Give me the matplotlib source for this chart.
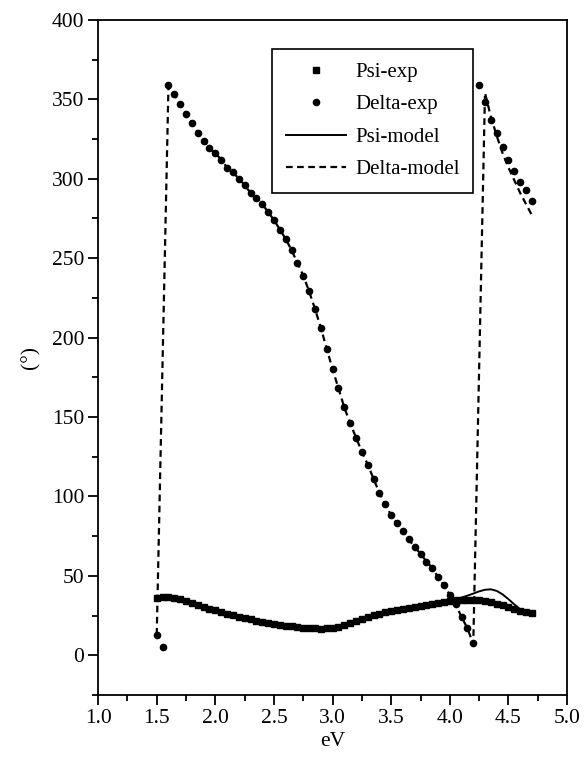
import numpy as np
import matplotlib
matplotlib.use("Agg")
import matplotlib.pyplot as plt

plt.rcParams['font.family'] = ['Liberation Serif', 'DejaVu Serif']

# photon energy grid of the measurements (eV)
energia = np.round(np.arange(1.5, 4.7001, 0.05), 2)

psi_exp = [36, 36.5, 36.5, 36, 35.2, 34.2, 33, 31.8, 30.5, 29.3,
           28.2, 27.2, 26.2, 25.2, 24.3, 23.4, 22.6, 21.8, 21.1, 20.4,
           19.8, 19.2, 18.7, 18.2, 17.8, 17.4, 17.1, 16.9, 16.8, 16.9,
           17.3, 18, 19, 20.3, 21.7, 23, 24.2, 25.2, 26.1, 26.9,
           27.6, 28.3, 29, 29.7, 30.4, 31.1, 31.8, 32.5, 33.1, 33.7,
           34.2, 34.6, 34.9, 35, 35, 34.7, 34.2, 33.4, 32.5, 31.4,
           30.3, 29.2, 28.1, 27.3, 26.8]

delta_exp = [13, 5, 359, 353, 347, 341, 335, 329, 324, 319,
             316, 312, 307, 304, 300, 296, 291, 288, 284, 279,
             274, 268, 262, 255, 247, 239, 229, 218, 206, 193,
             180, 168, 156, 146, 137, 128, 120, 111, 102, 95,
             88, 83, 78, 73, 68, 64, 59, 55, 49, 44,
             38, 32, 24, 17, 8, 359, 348, 337, 329, 320,
             312, 305, 298, 293, 286]

# modelo
psi_model = psi_exp[:51] + [35.2, 36.3, 37.5, 38.8, 40.2, 41.2, 41.5, 40.5,
                            38.3, 35.3, 32, 29, 27, 26.5]

e_model = [1.5, 1.6, 1.65, 1.7, 1.75, 1.8, 1.85, 1.9, 1.95, 2.0,
           2.05, 2.1, 2.15, 2.2, 2.25, 2.3, 2.35, 2.4, 2.45, 2.5,
           2.55, 2.6, 2.65, 2.7, 2.75, 2.8, 2.85, 2.9, 2.95, 3.0,
           3.05, 3.1, 3.15, 3.2, 3.25, 3.3, 3.35, 3.4, 3.45, 3.5,
           3.55, 3.6, 3.65, 3.7, 3.75, 3.8, 3.85, 3.9, 3.95, 4.0,
           4.05, 4.1, 4.15, 4.2, 4.3, 4.35, 4.4, 4.45, 4.5, 4.55,
           4.6, 4.65, 4.7]
delta_model = [13, 358, 353, 347, 341, 335, 329, 324, 319, 316,
               312, 307, 304, 300, 296, 291, 288, 284, 279, 274,
               268, 262, 255, 247, 239, 229, 218, 206, 193, 180,
               168, 156, 146, 137, 128, 120, 111, 102, 95, 88,
               83, 78, 73, 68, 64, 59, 55, 49, 44, 38,
               32, 24, 17, 7, 354, 339, 327, 316, 307, 299,
               291, 284, 277]

fig = plt.figure(figsize=(5.84, 7.62), dpi=100)
ax = fig.add_axes([0.168, 0.088, 0.803, 0.886])

ax.plot(energia, psi_exp, 's', color='black', markersize=4.8, label='Psi-exp')
ax.plot(energia, delta_exp, 'o', color='black', markersize=4.5, label='Delta-exp')
ax.plot(energia, psi_model, '-', color='black', lw=1.4, label='Psi-model')
ax.plot(e_model, delta_model, '--', color='black', lw=1.6, dashes=(3, 2),
        label='Delta-model')

ax.set_xlim(1.0, 5.0)
ax.set_ylim(-25, 400)
ax.set_xticks(np.arange(1.0, 5.01, 0.5))
ax.set_xticks(np.arange(1.0, 5.01, 0.25), minor=True)
ax.set_yticks(np.arange(0, 401, 50))
ax.set_yticks(np.arange(-25, 401, 25), minor=True)
ax.xaxis.set_major_formatter(matplotlib.ticker.FormatStrFormatter('%.1f'))

ax.tick_params(which='both', direction='out', top=False, right=False,
               labelsize=15.5, width=1.3, colors='black')
ax.tick_params(which='major', length=7, pad=3)
ax.tick_params(which='minor', length=4)
for s in ax.spines.values():
    s.set_linewidth(1.3)

ax.set_xlabel('eV', fontsize=15.5, labelpad=3)
ax.set_ylabel('(°)', fontsize=15.5, labelpad=8)

leg = ax.legend(loc='upper left', bbox_to_anchor=(0.371, 0.957), fontsize=15,
                frameon=True, fancybox=False, edgecolor='black', framealpha=1,
                borderpad=0.65, labelspacing=0.62, handlelength=2.9,
                handletextpad=0.45, borderaxespad=0)
leg.get_frame().set_linewidth(1.2)

plt.savefig('out.png', dpi=100)
